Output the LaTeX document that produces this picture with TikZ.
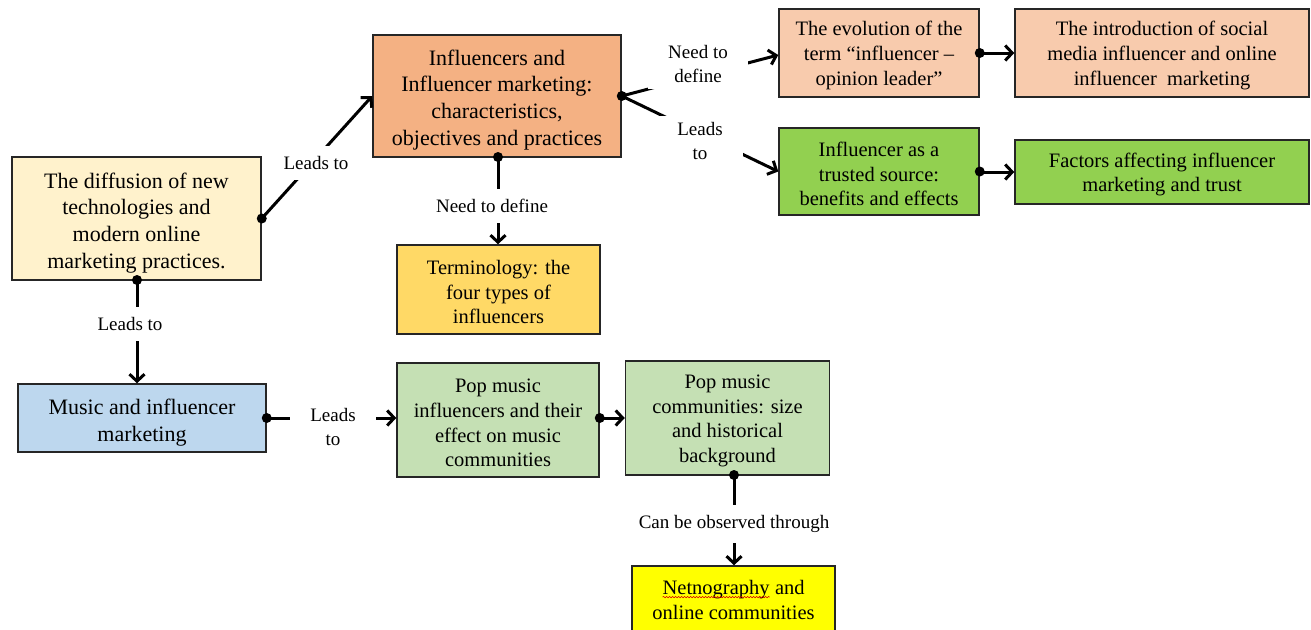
\documentclass[tikz,border=0pt]{standalone}
\usepackage{fontspec}
\setmainfont{Liberation Serif}
\usetikzlibrary{arrows.meta,decorations.pathmorphing}

\definecolor{boxline}{HTML}{262626}
\definecolor{cream}{HTML}{FFF2CC}
\definecolor{orange}{HTML}{F4B183}
\definecolor{peach}{HTML}{F8CBAD}
\definecolor{leaf}{HTML}{92D050}
\definecolor{gold}{HTML}{FFD966}
\definecolor{sky}{HTML}{BDD7EE}
\definecolor{sage}{HTML}{C5E0B4}
\definecolor{lemon}{HTML}{FFFF00}

\tikzset{
  box/.style={draw=boxline, line width=1.5pt, align=center, inner sep=0pt},
  bigtext/.style={font=\fontsize{22}{26.7}\selectfont},
  smalltext/.style={font=\fontsize{20.5}{24.8}\selectfont},
  link/.style={line width=3pt, -{Straight Barb[length=7pt,width=15pt]}},
  tag/.style={fill=white, font=\fontsize{19}{24}\selectfont, align=center, inner xsep=12pt, inner ysep=10pt},
  dot/.style={fill=black},
}

% tall invisible strut that lowers a box's text block a little
\newcommand{\toprule}[1][0.95em]{\rule{0pt}{#1}}

% red wavy underline of a spell-checked word
\newcommand{\wavyword}[1]{\tikz[x=1pt,y=1pt,baseline=(w.base)]{%
  \node[draw=none, fill=none, minimum width=0pt, minimum height=0pt, inner sep=0pt, outer sep=0pt] (w) {#1};
  \draw[red!85!black, line width=0.6pt, decorate, decoration={snake,amplitude=0.7pt,segment length=3pt}]
    ([yshift=-2.5pt]w.base west) -- ([yshift=-2.5pt]w.base east);}}

\begin{document}
\begin{tikzpicture}[x=1pt,y=-1pt]
\useasboundingbox (0,0) rectangle (1311,629);

% boxes
\node[box, bigtext, fill=cream, minimum width=249pt, minimum height=123pt] (diff) at (136.5,218.5)
  {\toprule[1.1em]The diffusion of new\\technologies and\\modern online\\marketing practices.};
\node[box, bigtext, fill=orange, minimum width=248pt, minimum height=122pt] (infl) at (497,96)
  {\toprule[1.05em]Influencers and\\Influencer marketing:\\characteristics,\\objectives and practices};
\node[box, smalltext, fill=peach, minimum width=200pt, minimum height=88pt] (evol) at (879,53)
  {\toprule The evolution of the\\term “influencer –\\opinion leader”};
\node[box, smalltext, fill=peach, minimum width=294pt, minimum height=88pt] (intro) at (1162,53)
  {\toprule The introduction of social\\media influencer and online\\influencer\ \ marketing};
\node[box, smalltext, fill=leaf, minimum width=200pt, minimum height=87pt] (trust) at (879,171.5)
  {\toprule Influencer as a\\trusted source:\\benefits and effects};
\node[box, smalltext, fill=leaf, minimum width=294pt, minimum height=64pt] (fact) at (1162,172)
  {\toprule Factors affecting influencer\\marketing and trust};
\node[box, smalltext, fill=gold, minimum width=203pt, minimum height=89pt] (term) at (498.5,289.5)
  {\toprule Terminology: the\\four types of\\influencers};
\node[box, bigtext, fill=sky, minimum width=248pt, minimum height=68pt] (music) at (142,418)
  {\toprule[1.15em]Music and influencer\\marketing};
\node[box, smalltext, fill=sage, minimum width=202pt, minimum height=114pt] (popinf) at (498,420)
  {\toprule Pop music\\influencers and their\\effect on music\\communities};
\node[box, smalltext, fill=sage, minimum width=204pt, minimum height=114pt] (popcom) at (727.5,418)
  {\toprule Pop music\\communities: size\\and historical\\background};
\node[box, smalltext, fill=lemon, minimum width=203pt, minimum height=68pt] (net) at (733.5,600)
  {\wavyword{Netnography} and\\online communities};

% connector end points that sit off the box centres
\coordinate (ds) at (137,280);
\coordinate (is) at (498,157);
\coordinate (cs) at (734,475);

% connectors
\draw[link] (diff.east) -- (infl.west);
\draw[link] (ds) -- (ds |- music.north);
\draw[link] (is) -- (is |- term.north);
\draw[link] (infl.east) -- ([yshift=-2pt]evol.west);
\draw[link] (infl.east) -- (trust.west);
\draw[link] (evol.east) -- (intro.west);
\draw[link] ([yshift=-0.5pt]trust.east) -- (fact.west);
\draw[link] (music.east) -- (music.east -| popinf.west);
\draw[link] (popinf.east |- music.east) coordinate (pe) -- (popcom.west |- music.east);
\draw[link] (cs) -- (cs |- net.north);

% connector labels
\node[tag] (l1) at (316,163) {Leads to};
\node[tag] (l2) at (130,324) {Leads to};
\node[tag] (l3) at (492,206) {Need to define};
\node[tag, inner xsep=20pt, inner ysep=6pt] (l4) at (698,64) {Need to\\define};
\node[tag, inner xsep=20pt, inner ysep=6pt] (l5) at (700,141) {Leads\\to};
\node[tag, inner xsep=20pt, inner ysep=4pt] (l6) at (333,427) {Leads\\to};
\node[tag] (l7) at (734,524) {Can be observed through};

% start dots
\foreach \p in {diff.east, ds, is, infl.east, evol.east, trust.east, music.east, pe, cs}
  \fill[dot] (\p) circle (5pt);
\end{tikzpicture}
\end{document}
